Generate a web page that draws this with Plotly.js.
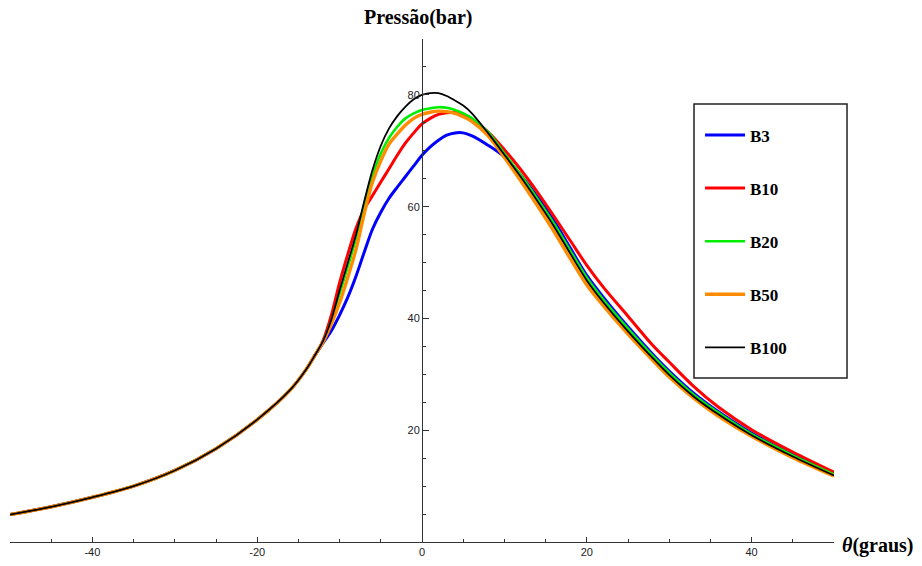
<!DOCTYPE html>
<html>
<head>
<meta charset="utf-8">
<script src="https://cdn.plot.ly/plotly-3.0.1.min.js"></script>
<style>html,body{margin:0;padding:0;background:#fff;}#chart{width:922px;height:566px;}</style>
</head>
<body>
<div id="chart"></div>
<script>
// Crank angle (graus)
const theta = [-50,-45,-40,-35,-30,-25,-20,-16,-14,-13,-12,-11,-10,-9,-8,-7,-6,-5,-4,-3,-2,-1,0,1,2,3,4,5,6,8,10,12,14,16,18,20,22,25,28,30,33,36,40,45,50];

// Pressure (bar) for each case
const B3   = [4.9,6.3,8.0,10.0,12.8,16.7,21.9,27.2,31.0,33.4,35.6,37.8,40.6,43.8,47.6,51.9,56.0,59.0,61.5,63.5,65.4,67.3,69.2,70.7,71.9,72.8,73.2,73.2,72.7,71.0,68.9,65.6,61.8,57.5,52.6,47.7,43.8,38.5,33.6,30.6,26.6,23.3,19.5,15.6,12.2];
const B10  = [4.9,6.3,8.0,10.0,12.8,16.7,21.9,27.2,31.0,33.4,36.1,40.6,46.4,51.5,56.2,59.6,62.0,64.4,66.8,69.2,71.4,73.2,74.8,75.8,76.5,76.8,76.9,76.6,75.6,73.4,70.2,66.6,62.6,58.3,53.9,49.5,45.6,40.4,35.2,32.2,27.8,24.1,20.1,16.1,12.5];
const B20  = [4.9,6.3,8.0,10.0,12.8,16.7,21.9,27.2,31.0,33.4,35.9,39.5,44.5,49.3,54.4,60.4,65.6,69.5,72.3,74.3,75.8,76.7,77.3,77.6,77.8,77.7,77.3,76.7,75.9,73.4,69.5,65.6,61.4,57.0,52.1,47.3,43.4,38.2,33.3,30.3,26.3,23.1,19.3,15.5,12.1];
const B50  = [4.9,6.3,8.0,10.0,12.8,16.7,21.9,27.2,31.0,33.4,35.8,39.0,42.8,47.4,52.4,58.8,64.4,68.2,71.2,73.0,74.6,75.8,76.5,76.9,77.1,77.0,76.7,76.1,75.3,72.7,68.8,64.6,60.2,55.6,50.7,46.0,42.3,37.2,32.5,29.5,25.7,22.5,18.9,15.1,11.8];
const B100 = [4.9,6.3,8.0,10.0,12.8,16.7,21.9,27.2,31.0,33.4,36.0,39.8,45.0,50.0,55.0,61.0,66.6,70.9,74.0,76.2,77.9,79.2,80.0,80.3,80.3,79.8,79.0,78.1,76.8,73.2,69.3,65.3,61.0,56.5,51.6,46.8,42.9,37.7,32.9,29.9,26.0,22.8,19.1,15.3,11.9];

const seriesNames = ['B3','B10','B20','B50','B100'];
const seriesColors = ['#0000ff','#ff0000','#00ee00','#ff8c00','#000000'];
const seriesWidths = [3,3,2.6,3.4,1.8];
const seriesData = [B3,B10,B20,B50,B100];

const xTickVals = [-40,-20,0,20,40];
const xTickText = ['-40','-20','0','20','40'];
const yTickVals = [20,40,60,80];
const yTickText = ['20','40','60','80'];

const traces = seriesData.map((ys,i)=>({
  x: theta, y: ys, type:'scatter', mode:'lines', name: seriesNames[i],
  legendgroup: seriesNames[i],
  line:{color:seriesColors[i], width:seriesWidths[i], shape:'spline', smoothing:0.9},
  hoverinfo:'skip'
}));

const axisColor = '#333333';
const tickFont = {family:'Liberation Sans, Arial, sans-serif', size:11, color:'#222'};
const serifBold = 'Liberation Serif, Times New Roman, serif';

const layout = {
  width:922, height:566,
  margin:{l:10, r:88, t:39, b:24, pad:0},
  paper_bgcolor:'#ffffff', plot_bgcolor:'#ffffff',
  showlegend:true,
  hovermode:false,
  xaxis:{
    range:[-50,50], tickmode:'array', tickvals:xTickVals, ticktext:xTickText,
    ticks:'inside', ticklen:5, tickwidth:1, tickcolor:axisColor,
    showline:true, linecolor:axisColor, linewidth:1,
    showgrid:false, zeroline:false, tickfont:tickFont,
    minor:{dtick:5, tick0:0, ticks:'inside', ticklen:3, tickcolor:axisColor, showgrid:false},
    fixedrange:true
  },
  yaxis:{
    range:[0,90], anchor:'free', position:0.5, side:'left',
    tickmode:'array', tickvals:yTickVals, ticktext:yTickText,
    ticks:'inside', ticklen:6, tickwidth:1, tickcolor:axisColor,
    showline:true, linecolor:axisColor, linewidth:1,
    showgrid:false, zeroline:false, tickfont:tickFont,
    minor:{dtick:5, tick0:0, ticks:'inside', ticklen:3, tickcolor:axisColor, showgrid:false},
    fixedrange:true
  },
  legend:{
    x:0.8374, xanchor:'left', y:0.844, yanchor:'top',
    bgcolor:'rgba(0,0,0,0)', borderwidth:0,
    font:{family:serifBold, size:17, color:'#000', weight:'bold'},
    traceorder:'grouped', tracegroupgap:28, itemwidth:40
  },
  shapes:[{
    type:'rect', xref:'paper', yref:'paper',
    x0:0.8301, x1:1.0158, y0:0.326, y1:0.8708,
    line:{color:'#222', width:1.5}, fillcolor:'rgba(0,0,0,0)', layer:'above'
  }],
  annotations:[
    {text:'<b>Pressão(bar)</b>', xref:'x', x:-0.4, yref:'paper', y:1.0437,
     xanchor:'center', yanchor:'middle', showarrow:false,
     font:{family:serifBold, size:20, color:'#000'}},
    {text:'<b><i>θ</i>(graus)</b>', xref:'paper', x:1.0073, yref:'paper', y:-0.006,
     xanchor:'left', yanchor:'middle', showarrow:false,
     font:{family:serifBold, size:20, color:'#000'}}
  ]
};

Plotly.newPlot('chart', traces, layout, {displayModeBar:false, staticPlot:true});
</script>
</body>
</html>
